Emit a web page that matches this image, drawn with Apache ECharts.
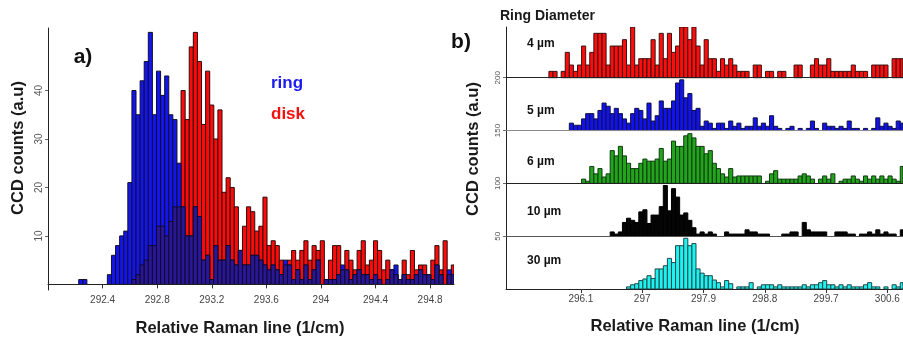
<!DOCTYPE html>
<html>
<head>
<meta charset="utf-8">
<script src="https://cdn.jsdelivr.net/npm/echarts@6/dist/echarts.min.js"></script>
<style>
html, body { margin: 0; padding: 0; background: #fff; }
#chart { width: 903px; height: 338px; }
</style>
</head>
<body>
<div id="chart"></div>
<script>
// panel a) : 0.03 cm-1 bins, centres from 292.00
var leftStart = 292.0, leftStep = 0.03;

var diskCounts = [
    0, 0, 0, 0, 0, 0, 0, 0, 0, 0,
    0, 0, 0, 0, 0, 0, 0, 0, 0, 0,
    0, 1, 2, 4, 5, 8, 8, 12, 12, 10,
    13, 16, 16, 40, 34, 49, 52, 46, 33, 44,
    37, 30, 36, 19, 22, 20, 16, 7, 12, 16,
    15, 11, 12, 18, 8, 9, 8, 5, 4, 5,
    7, 5, 7, 9, 5, 8, 7, 9, 1, 5,
    8, 8, 3, 7, 5, 3, 7, 9, 4, 5,
    9, 7, 3, 5, 3, 2, 1, 5, 2, 7,
    3, 4, 4, 2, 5, 8, 3, 9, 2, 4
];

var ringCounts = [
    0, 0, 0, 0, 0, 0, 0, 0, 1, 1,
    0, 0, 0, 0, 0, 2, 6, 8, 10, 11,
    21, 40, 35, 42, 46, 52, 35, 44, 39, 43,
    35, 34, 25, 16, 10, 10, 16, 14, 5, 6,
    1, 8, 5, 5, 8, 5, 4, 7, 4, 4,
    6, 6, 5, 4, 3, 4, 3, 2, 5, 4,
    1, 3, 1, 4, 1, 3, 5, 0, 1, 1,
    1, 2, 4, 3, 1, 2, 3, 2, 2, 1,
    2, 1, 0, 1, 3, 4, 1, 2, 1, 1,
    2, 3, 2, 2, 1, 4, 2, 0, 3, 2
];

// panel b) : 0.06 cm-1 bins, centres from 295.00
var rightStart = 295.0, rightStep = 0.06;

var ring4 = [
    0, 0, 0, 0, 0, 0, 0, 0, 0, 0,
    0, 6, 6, 0, 6, 24, 12, 6, 12, 30,
    12, 24, 42, 42, 42, 12, 30, 30, 30, 36,
    12, 48, 12, 18, 18, 18, 36, 12, 42, 18,
    42, 24, 30, 48, 48, 36, 48, 30, 12, 36,
    18, 18, 6, 18, 12, 18, 12, 6, 6, 6,
    0, 12, 12, 0, 6, 6, 0, 6, 6, 0,
    0, 12, 12, 0, 0, 12, 18, 12, 12, 18,
    6, 6, 6, 6, 6, 12, 6, 6, 6, 0,
    12, 12, 12, 12, 0, 18, 18, 18
];

var ring5 = [
    0, 0, 0, 0, 0, 0, 0, 0, 0, 0,
    0, 0, 0, 0, 0, 0, 7, 5, 5, 11,
    16, 16, 11, 19, 26, 23, 16, 21, 16, 11,
    7, 16, 21, 19, 11, 26, 9, 14, 28, 21,
    21, 28, 45, 48, 31, 35, 19, 21, 4, 9,
    7, 2, 7, 7, 2, 9, 4, 7, 2, 4,
    4, 12, 4, 7, 4, 14, 4, 2, 0, 2,
    4, 0, 2, 0, 2, 9, 2, 0, 7, 4,
    4, 2, 4, 2, 9, 2, 2, 0, 2, 0,
    2, 12, 4, 7, 4, 2, 9, 7
];

var ring6 = [
    0, 0, 0, 0, 0, 0, 0, 0, 0, 0,
    0, 0, 0, 0, 0, 0, 0, 0, 0, 4,
    2, 16, 9, 14, 6, 9, 31, 26, 35, 26,
    19, 14, 14, 19, 23, 21, 21, 23, 33, 21,
    23, 40, 35, 35, 45, 47, 43, 35, 35, 28,
    31, 19, 14, 9, 6, 14, 6, 7, 7, 7,
    7, 7, 7, 0, 2, 9, 12, 4, 4, 4,
    4, 4, 7, 9, 7, 4, 0, 4, 7, 4,
    9, 0, 2, 4, 4, 7, 4, 2, 7, 4,
    7, 4, 7, 4, 7, 4, 2, 16
];

var ring10 = [
    0, 0, 0, 0, 0, 0, 0, 0, 0, 0,
    0, 0, 0, 0, 0, 0, 0, 0, 0, 0,
    0, 0, 0, 0, 0, 0, 4, 2, 4, 13,
    17, 15, 13, 23, 25, 12, 20, 20, 28, 48,
    24, 45, 37, 20, 22, 15, 8, 2, 4, 2,
    4, 2, 0, 0, 4, 2, 2, 2, 2, 6,
    4, 4, 2, 2, 2, 0, 0, 0, 2, 2,
    4, 4, 0, 13, 6, 4, 4, 4, 4, 0,
    0, 4, 4, 4, 2, 2, 0, 2, 2, 4,
    2, 6, 2, 4, 2, 2, 0, 6
];

var ring30 = [
    0, 0, 0, 0, 0, 0, 0, 0, 0, 0,
    0, 0, 0, 0, 0, 0, 0, 0, 0, 0,
    0, 0, 0, 0, 0, 0, 0, 0, 0, 0,
    2, 4, 5, 8, 9.5, 12.6, 10, 19, 19, 22,
    29, 25, 41, 41, 48, 41, 43, 19, 15, 12.6,
    12.6, 8.5, 6, 2, 8, 5, 0, 2, 2, 2,
    6, 0, 2, 4, 4, 4, 2, 4, 2, 2,
    2, 2, 2, 4, 2, 4, 4, 6, 8, 4,
    4, 2, 4, 2, 4, 2, 2, 2, 4, 6,
    2, 2, 0, 2, 0, 4, 2, 6
];

var bandNames = ['4 µm', '5 µm', '6 µm', '10 µm', '30 µm'];
var bandBase = [200, 150, 100, 50, 0];
var bandCounts = [ring4, ring5, ring6, ring10, ring30];

var leftTicks = [292.4, 292.8, 293.2, 293.6, 294, 294.4, 294.8];
var leftYTicks = [10, 20, 30, 40];
var rightTicks = [296.1, 297, 297.9, 298.8, 299.7, 300.6];
var rightYTicks = [50, 100, 150, 200];

// 样式
var FONT = '"Liberation Sans", Arial, Helvetica, sans-serif';
var bandColors = ['#ff0d0d', '#1212ee', '#22a41c', '#050505', '#1ff0f0'];
var bandStroke = ['#3a1010', '#101040', '#103a10', '#000000', '#1c4a4a'];
var bandLine = ['#222', '#8a8a8a', '#222', '#555', '#222'];

// 柱子（自定义）
var makeBars = function(fill, stroke, base, width) {
    return function(params, api) {
        var x = api.value(0), v = api.value(1);
        if (!v) return null;
        var p0 = api.coord([x - width / 2, base + v]);
        var p1 = api.coord([x + width / 2, base]);
        var cs = params.coordSys;
        var shape = echarts.graphic.clipRectByRect(
            { x: p0[0], y: p0[1], width: p1[0] - p0[0], height: p1[1] - p0[1] },
            { x: cs.x, y: cs.y, width: cs.width, height: cs.height });
        if (!shape) return null;
        return { type: 'rect', shape: shape, style: { fill: fill, stroke: stroke, lineWidth: 1 } };
    };
};

var toRows = function(start, step, arr) {
    var rows = [], i;
    for (i = 0; i < arr.length; i++) rows.push([+(start + i * step).toFixed(3), arr[i]]);
    return rows;
};

var overlap = diskCounts.map(function(d, i) { return Math.min(d, ringCounts[i]); });

var series = [
    {
        type: 'custom', xAxisIndex: 0, yAxisIndex: 0, clip: true, silent: true,
        data: toRows(leftStart, leftStep, diskCounts), encode: { x: 0, y: 1 },
        renderItem: makeBars('#ff0a0a', '#2a0a0a', 0, leftStep),
        markLine: {
            silent: true, symbol: 'none', label: { show: false },
            lineStyle: { color: '#222', width: 1, type: 'solid' },
            data: [{ yAxis: 0 }]
        }
    },
    {
        type: 'custom', xAxisIndex: 0, yAxisIndex: 0, clip: true, silent: true,
        data: toRows(leftStart, leftStep, ringCounts), encode: { x: 0, y: 1 },
        renderItem: makeBars('#1414ee', '#10102a', 0, leftStep)
    },
    {
        type: 'custom', xAxisIndex: 0, yAxisIndex: 0, clip: true, silent: true,
        data: toRows(leftStart, leftStep, overlap), encode: { x: 0, y: 1 },
        renderItem: makeBars('#2a1796', '#100a30', 0, leftStep)
    }
];

bandCounts.forEach(function(arr, b) {
    var s = {
        type: 'custom', xAxisIndex: 1, yAxisIndex: 1, clip: true, silent: true,
        data: toRows(rightStart, rightStep, arr), encode: { x: 0, y: 1 },
        renderItem: makeBars(bandColors[b], bandStroke[b], bandBase[b], rightStep)
    };
    if (bandBase[b] > 0) s.markLine = {
        silent: true, symbol: 'none', label: { show: false },
        lineStyle: { color: bandLine[b], width: 1, type: 'solid' },
        data: [{ yAxis: bandBase[b] }]
    };
    series.push(s);
});

var axisLine = { show: true, lineStyle: { color: '#222', width: 1 } };

var option = {
    animation: false,
    backgroundColor: '#fff',
    grid: [
        { left: 48, top: 28, width: 406, height: 262 },
        { left: 506, top: 27, width: 397, height: 262 }
    ],
    xAxis: [
        {
            type: 'value', gridIndex: 0, min: 292.0, max: 294.975,
            axisLine: axisLine,
            axisTick: { show: true, customValues: leftTicks, length: 4, lineStyle: { color: '#333' } },
            axisLabel: { customValues: leftTicks, fontSize: 10, color: '#444', margin: 5, fontFamily: FONT },
            splitLine: { show: false }
        },
        {
            type: 'value', gridIndex: 1, min: 295.0, max: 300.83,
            axisLine: axisLine,
            axisTick: { show: true, customValues: rightTicks, length: 4, lineStyle: { color: '#333' } },
            axisLabel: { customValues: rightTicks, fontSize: 10, color: '#444', margin: 5, fontFamily: FONT },
            splitLine: { show: false }
        }
    ],
    yAxis: [
        {
            type: 'value', gridIndex: 0, min: -1.16, max: 52.9,
            axisLine: axisLine,
            axisTick: { show: true, customValues: leftYTicks, length: 3, lineStyle: { color: '#666' } },
            axisLabel: { customValues: leftYTicks, rotate: 90, fontSize: 10, color: '#555', margin: 4, fontFamily: FONT },
            splitLine: { show: false }
        },
        {
            type: 'value', gridIndex: 1, min: 0, max: 248,
            axisLine: axisLine,
            axisTick: { show: true, customValues: rightYTicks, length: 3, lineStyle: { color: '#666' } },
            axisLabel: { customValues: rightYTicks, rotate: 90, fontSize: 8, color: '#555', margin: 4, fontFamily: FONT },
            splitLine: { show: false }
        }
    ],
    series: series,
    graphic: [
        { type: 'text', x: 83, y: 57, style: { text: 'a)', font: 'bold 21px ' + FONT, fill: '#111', align: 'center', verticalAlign: 'middle' } },
        { type: 'text', x: 461, y: 42, style: { text: 'b)', font: 'bold 21px ' + FONT, fill: '#111', align: 'center', verticalAlign: 'middle' } },
        { type: 'text', x: 271, y: 83, style: { text: 'ring', font: 'bold 17px ' + FONT, fill: '#1a1af2', align: 'left', verticalAlign: 'middle' } },
        { type: 'text', x: 271, y: 114, style: { text: 'disk', font: 'bold 17px ' + FONT, fill: '#f51010', align: 'left', verticalAlign: 'middle' } },
        { type: 'text', x: 500, y: 16, style: { text: 'Ring Diameter', font: 'bold 14px ' + FONT, fill: '#1a1a1a', align: 'left', verticalAlign: 'middle' } },
        { type: 'text', x: 240, y: 328, style: { text: 'Relative Raman line (1/cm)', font: 'bold 16.5px ' + FONT, fill: '#1a1a1a', align: 'center', verticalAlign: 'middle' } },
        { type: 'text', x: 695, y: 326, style: { text: 'Relative Raman line (1/cm)', font: 'bold 16.5px ' + FONT, fill: '#1a1a1a', align: 'center', verticalAlign: 'middle' } },
        { type: 'text', x: 18, y: 148, rotation: Math.PI / 2, style: { text: 'CCD counts (a.u)', font: 'bold 16.5px ' + FONT, fill: '#1a1a1a', align: 'center', verticalAlign: 'middle' } },
        { type: 'text', x: 473, y: 149, rotation: Math.PI / 2, style: { text: 'CCD counts (a.u)', font: 'bold 16.5px ' + FONT, fill: '#1a1a1a', align: 'center', verticalAlign: 'middle' } }
    ].concat(bandNames.map(function(n, b) {
        return { type: 'text', x: 527, y: [44, 111, 162, 212, 261][b], style: { text: n, font: 'bold 12px ' + FONT, fill: '#111', align: 'left', verticalAlign: 'middle' } };
    }))
};

var chart = echarts.init(document.getElementById('chart'));
chart.setOption(option);
</script>
</body>
</html>
